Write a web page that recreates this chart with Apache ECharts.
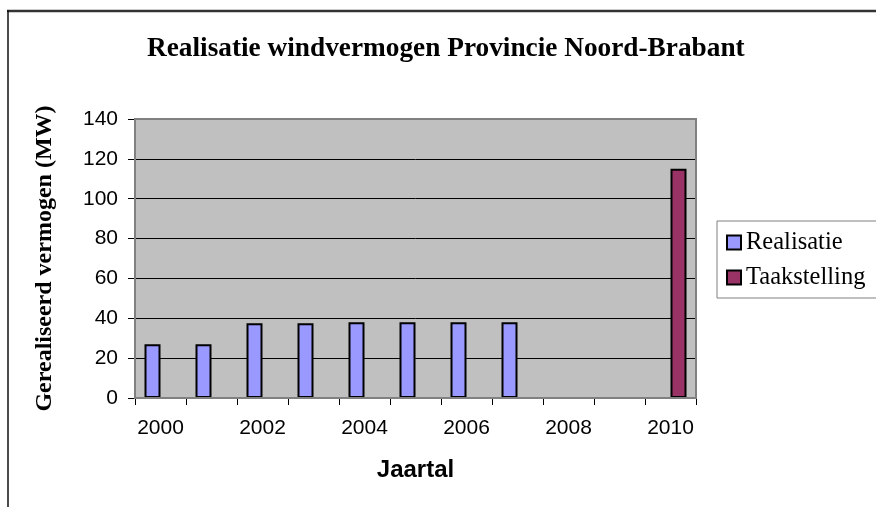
<!DOCTYPE html>
<html>
<head>
<meta charset="utf-8">
<script src="https://cdn.jsdelivr.net/npm/echarts@6/dist/echarts.min.js"></script>
<style>html,body{margin:0;padding:0;background:#fff}#c{width:876px;height:507px}</style>
</head>
<body>
<div id="c"></div>
<script>
const categories = ['2000','2001','2002','2003','2004','2005','2006','2007','2008','2009','2010'];
const realisatie = [27, 27, 37.5, 37.5, 38, 38, 38, 38, null, null, null];
const taakstelling = [null, null, null, null, null, null, null, null, null, null, 115];
const yTicks = {min: 0, max: 140, interval: 20};

const chart = echarts.init(document.getElementById('c'));
chart.setOption({
  animation: false,
  backgroundColor: '#fff',
  title: {
    text: 'Realisatie windvermogen Provincie Noord-Brabant',
    left: 147,
    top: 35,
    padding: 0,
    textStyle: {fontFamily: 'Liberation Serif', fontWeight: 'bold', fontSize: 27.3, color: '#000'}
  },
  graphic: [
    {type: 'line', shape: {x1: 7, y1: 11, x2: 900, y2: 11}, style: {stroke: '#333', lineWidth: 2.5}},
    {type: 'line', shape: {x1: 8, y1: 10, x2: 8, y2: 520}, style: {stroke: '#111', lineWidth: 1.5}},
    {type: 'rect', shape: {x: 135, y: 119, width: 561, height: 279}, style: {fill: 'none', stroke: '#808080', lineWidth: 2}, z: 5}
  ],
  legend: {
    orient: 'vertical',
    left: 717,
    top: 221,
    padding: [7, 40, 6, 9],
    itemGap: 6,
    itemWidth: 14,
    itemHeight: 14,
    itemTextGap: 6,
    backgroundColor: '#fff',
    borderColor: '#808080',
    borderWidth: 1,
    icon: 'rect',
    itemStyle: {borderColor: '#000', borderWidth: 2},
    textStyle: {fontFamily: 'Liberation Serif', fontSize: 24.5, color: '#000', lineHeight: 29},
    data: ['Realisatie', 'Taakstelling']
  },
  grid: {left: 135, top: 119, width: 561, height: 279, show: true, backgroundColor: '#C0C0C0', borderWidth: 0},
  xAxis: {
    type: 'category',
    data: categories,
    name: 'Jaartal',
    nameLocation: 'middle',
    nameGap: 60,
    nameTextStyle: {fontFamily: 'Liberation Sans', fontWeight: 'bold', fontSize: 24, color: '#000'},
    axisLine: {lineStyle: {color: '#000', width: 1.5}},
    axisTick: {show: true, interval: 0, length: 7, lineStyle: {color: '#000'}},
    axisLabel: {interval: 1, margin: 20, fontFamily: 'Liberation Sans', fontSize: 21, color: '#000'},
    splitLine: {show: false}
  },
  yAxis: {
    type: 'value',
    min: yTicks.min,
    max: yTicks.max,
    interval: yTicks.interval,
    name: 'Gerealiseerd vermogen (MW)',
    nameLocation: 'middle',
    nameRotate: 90,
    nameGap: 78,
    nameTextStyle: {fontFamily: 'Liberation Serif', fontWeight: 'bold', fontSize: 24, color: '#000'},
    axisLine: {show: true, lineStyle: {color: '#000', width: 1.5}},
    axisTick: {show: true, length: 7, lineStyle: {color: '#000'}},
    axisLabel: {margin: 17, fontFamily: 'Liberation Sans', fontSize: 21, color: '#000'},
    splitLine: {show: true, lineStyle: {color: '#000', width: 1}}
  },
  series: [
    {name: 'Realisatie', type: 'bar', data: realisatie, barWidth: 16, barGap: '0%',
     itemStyle: {color: '#9999FF', borderColor: '#000', borderWidth: 2}},
    {name: 'Taakstelling', type: 'bar', data: taakstelling, barWidth: 16, barGap: '0%',
     itemStyle: {color: '#993366', borderColor: '#000', borderWidth: 2}}
  ]
});
</script>
</body>
</html>
